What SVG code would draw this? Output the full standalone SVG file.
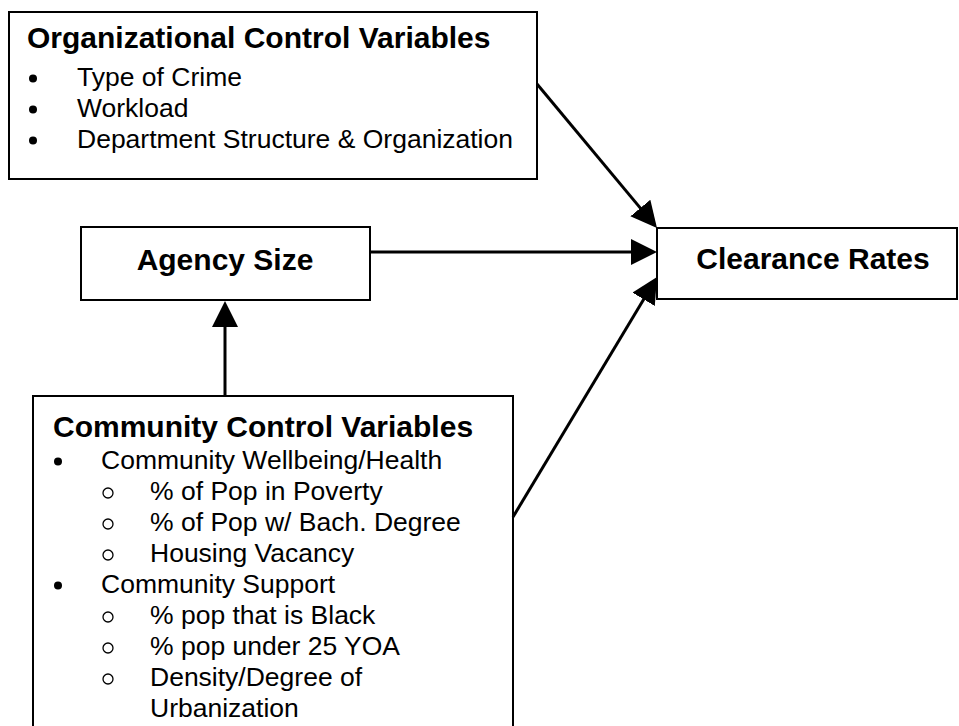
<svg xmlns="http://www.w3.org/2000/svg" width="959" height="726" viewBox="0 0 959 726">
  <style>
    .box { fill: #ffffff; stroke: #000000; stroke-width: 2; }
    .head { font-family: "Liberation Sans", Arial, sans-serif; font-weight: bold; font-size: 30px; fill: #000000; }
    .item { font-family: "Liberation Sans", Arial, sans-serif; font-size: 26.5px; fill: #000000; }
    .dot { fill: #000000; }
    .ring { fill: none; stroke: #000000; stroke-width: 1.3; }
    .link { stroke: #000000; stroke-width: 3; fill: none; marker-end: url(#arrow); }
  </style>
  <defs>
    <marker id="arrow" markerUnits="userSpaceOnUse" markerWidth="26" markerHeight="26" refX="4" refY="13" orient="auto">
      <path d="M0,0 L26,13 L0,26 Z" fill="#000000"/>
    </marker>
  </defs>
  <rect width="959" height="726" fill="#ffffff"/>

  <g id="organizational-controls">
    <rect class="box" x="9" y="12" width="528" height="167"/>
    <text class="head" x="27" y="48">Organizational Control Variables</text>
    <circle class="dot" cx="33" cy="78.5" r="4"/>
    <text class="item" x="77" y="86">Type of Crime</text>
    <circle class="dot" cx="33" cy="109.5" r="4"/>
    <text class="item" x="77" y="117">Workload</text>
    <circle class="dot" cx="33" cy="140.5" r="4"/>
    <text class="item" x="77" y="148">Department Structure &amp; Organization</text>
  </g>

  <g id="agency-size">
    <rect class="box" x="81" y="227" width="289" height="73"/>
    <text class="head" x="225" y="270" text-anchor="middle">Agency Size</text>
  </g>

  <g id="clearance-rates">
    <rect class="box" x="657" y="228" width="300" height="71"/>
    <text class="head" x="813" y="269" text-anchor="middle">Clearance Rates</text>
  </g>

  <g id="community-controls">
    <rect class="box" x="33" y="396" width="480" height="350"/>
    <text class="head" x="53" y="437">Community Control Variables</text>
    <circle class="dot" cx="58" cy="461.5" r="4"/>
    <text class="item" x="101" y="469">Community Wellbeing/Health</text>
    <circle class="ring" cx="108" cy="493" r="5"/>
    <text class="item" x="150" y="500">% of Pop in Poverty</text>
    <circle class="ring" cx="108" cy="524" r="5"/>
    <text class="item" x="150" y="531">% of Pop w/ Bach. Degree</text>
    <circle class="ring" cx="108" cy="555" r="5"/>
    <text class="item" x="150" y="562">Housing Vacancy</text>
    <circle class="dot" cx="58" cy="585.5" r="4"/>
    <text class="item" x="101" y="593">Community Support</text>
    <circle class="ring" cx="108" cy="617" r="5"/>
    <text class="item" x="150" y="624">% pop that is Black</text>
    <circle class="ring" cx="108" cy="648" r="5"/>
    <text class="item" x="150" y="655">% pop under 25 YOA</text>
    <circle class="ring" cx="108" cy="679" r="5"/>
    <text class="item" x="150" y="686">Density/Degree of</text>
    <text class="item" x="150" y="717">Urbanization</text>
  </g>

  <g id="connectors">
    <line class="link" x1="537" y1="84" x2="642.9" y2="211.1"/>
    <line class="link" x1="370" y1="252" x2="635" y2="252"/>
    <line class="link" x1="513" y1="517" x2="645.7" y2="295.9"/>
    <line class="link" x1="225" y1="396" x2="225" y2="323"/>
  </g>
</svg>
